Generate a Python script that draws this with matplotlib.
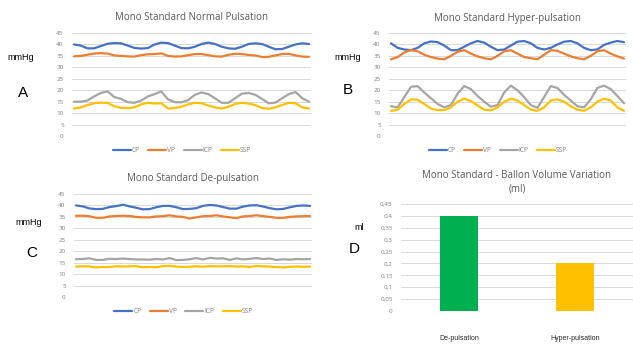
import numpy as np
import matplotlib.pyplot as plt

# pressure traces, one value per sample
cp_normal = [40.0, 39.5, 38.3, 38.3, 39.3, 40.3, 40.6, 40.5, 39.5, 38.5, 38.2, 38.4, 40.0, 40.8, 40.6, 39.5, 38.4, 38.3,
             39.0, 40.2, 40.8, 40.2, 39.0, 38.3, 38.1, 39.0, 40.2, 40.5, 40.2, 39.0, 37.9, 38.0, 39.0, 40.0, 40.5, 40.2]
vp_normal = [34.8, 35.0, 35.5, 36.0, 36.2, 36.0, 35.2, 35.0, 34.8, 34.7, 35.3, 35.7, 35.8, 36.1, 35.0, 34.7, 34.8, 35.3,
             35.8, 35.8, 35.3, 34.8, 34.7, 35.5, 35.9, 35.8, 35.4, 35.2, 34.5, 34.6, 35.2, 35.8, 35.9, 35.2, 34.7, 34.6]
icp_normal = [15.0, 15.0, 15.5, 17.3, 18.8, 19.5, 17.0, 16.2, 14.8, 14.5, 15.5, 17.3, 18.3, 19.5, 16.0, 14.8, 14.7, 15.7,
              18.0, 19.0, 18.3, 16.5, 14.5, 14.5, 16.5, 18.5, 18.8, 18.0, 16.2, 14.3, 14.6, 16.5, 18.3, 19.2, 16.5, 15.0]
ssp_normal = [12.0, 12.5, 13.5, 14.3, 14.6, 14.5, 13.0, 12.3, 12.2, 12.5, 13.8, 14.5, 14.2, 14.3, 12.0, 12.2, 12.8, 13.8,
              14.5, 14.3, 13.3, 12.5, 12.0, 12.8, 14.0, 14.5, 14.2, 13.5, 12.2, 11.9, 12.5, 13.5, 14.5, 14.3, 12.5, 12.0]

cp_hyper = [40.5, 38.5, 37.8, 37.5, 38.5, 40.5, 41.3, 41.0, 39.5, 37.5, 37.5, 39.0, 40.5, 41.5, 40.8, 39.0, 37.5, 37.8,
            39.5, 41.2, 41.5, 40.5, 38.5, 37.8, 38.5, 40.0, 41.2, 41.5, 40.5, 38.5, 37.5, 37.8, 39.8, 40.8, 41.5, 41.0]
vp_hyper = [33.5, 34.5, 36.5, 37.5, 37.0, 35.5, 34.5, 33.8, 33.5, 35.0, 36.8, 37.5, 36.0, 34.8, 34.0, 33.5, 35.0, 37.0,
            37.5, 36.0, 34.5, 34.0, 33.5, 35.5, 37.5, 37.2, 36.0, 34.8, 34.0, 33.5, 35.0, 37.0, 37.5, 36.0, 34.8, 33.8]
icp_hyper = [13.0, 12.5, 17.0, 21.5, 21.8, 19.0, 16.5, 14.0, 12.5, 13.5, 18.5, 21.8, 20.5, 17.5, 15.0, 12.8, 13.5, 19.0,
             22.0, 20.0, 17.0, 13.5, 12.3, 17.0, 21.8, 21.0, 18.0, 15.5, 13.0, 12.5, 16.0, 21.0, 22.0, 20.5, 17.5, 14.3]
ssp_hyper = [11.0, 11.5, 14.0, 16.0, 15.8, 14.0, 12.0, 11.3, 11.3, 12.5, 15.0, 16.3, 15.3, 13.3, 11.5, 11.2, 12.5, 15.0,
             16.3, 15.5, 13.5, 11.5, 11.0, 12.5, 15.5, 16.0, 15.0, 13.0, 11.5, 11.0, 12.5, 15.0, 16.3, 15.5, 12.5, 11.0]

cp_depul = [40.0, 39.6, 38.7, 38.4, 38.5, 39.3, 39.7, 40.3, 39.6, 39.0, 38.3, 38.4, 39.2, 39.8, 39.8, 39.2, 38.4, 38.5,
            38.8, 39.8, 40.2, 40.0, 39.3, 38.6, 38.6, 39.5, 40.0, 40.1, 39.5, 38.8, 38.3, 38.5, 39.2, 39.8, 40.0, 39.8]
vp_depul = [35.5, 35.5, 35.3, 34.6, 34.6, 35.2, 35.4, 35.5, 35.4, 35.0, 34.8, 34.8, 35.2, 35.3, 35.7, 35.2, 35.0, 34.3,
            34.8, 35.3, 35.4, 35.7, 35.2, 34.8, 34.5, 35.2, 35.4, 35.7, 35.3, 35.0, 34.6, 34.6, 35.0, 35.2, 35.3, 35.4]
icp_depul = [16.5, 16.6, 16.9, 16.2, 16.2, 16.7, 16.6, 16.8, 16.6, 16.4, 16.4, 16.3, 16.6, 16.4, 17.0, 16.1, 16.2, 16.5,
             17.0, 16.4, 17.1, 16.8, 16.9, 16.2, 16.9, 16.4, 16.7, 17.0, 16.6, 16.8, 16.2, 16.5, 16.3, 16.6, 16.5, 16.6]
ssp_depul = [13.3, 13.4, 13.4, 12.9, 13.1, 13.1, 13.4, 13.3, 13.4, 13.5, 13.0, 13.1, 13.0, 13.5, 13.6, 13.3, 13.1, 13.2,
             13.4, 13.2, 13.5, 13.4, 13.4, 13.5, 13.3, 13.4, 13.1, 13.6, 13.4, 13.3, 13.1, 12.9, 13.2, 13.3, 13.2, 13.3]

series_names = ["CP", "VP", "ICP", "SSP"]
series_colors = ["#4472C4", "#ED7D31", "#A5A5A5", "#FFC000"]

vol_labels = ["De-pulsation", "Hyper-pulsation"]
vol_values = [0.4, 0.2]
vol_colors = ["#00B050", "#FFC000"]

W, H = 633, 352
fig = plt.figure(figsize=(W / 100, H / 100), dpi=100)
plt.rcParams['font.family'] = ['Open Sans', 'DejaVu Sans']
grey_txt = "#595959"
tick_txt = "#7F7F7F"
grid_c = "#D9D9D9"


def px_axes(l, t, r, b):
    return fig.add_axes([l / W, 1 - b / H, (r - l) / W, (b - t) / H])


def style(ax):
    for s in ax.spines.values():
        s.set_visible(False)
    ax.tick_params(length=0, labelsize=4.5, labelcolor=tick_txt, pad=6)
    ax.grid(axis="y", color=grid_c, lw=0.7)
    ax.set_axisbelow(True)


def pressure_panel(box, title, data, letter, unit_xy, letter_xy):
    ax = px_axes(*box)
    style(ax)
    x = np.arange(len(data[0]))
    for vals, name, col in zip(data, series_names, series_colors):
        ax.plot(x, vals, color=col, lw=1.6, label=name, solid_capstyle="round", solid_joinstyle="round")
    ax.set_xlim(-0.3, len(x) - 0.7)
    ax.set_ylim(0, 45)
    ax.set_yticks(range(0, 50, 5))
    ax.set_xticks([])
    ax.set_title(title, fontsize=7, color=grey_txt, pad=9)
    ax.legend(loc="center", bbox_to_anchor=(0.46, -0.145), ncol=4, frameon=False,
              fontsize=4.8, labelcolor=tick_txt, handlelength=2.7, handletextpad=0.1,
              columnspacing=1.3)
    fig.text(unit_xy[0] / W, 1 - unit_xy[1] / H, "mmHg", fontsize=6.5, family="Liberation Sans",
             ha="center", va="center")
    fig.text(letter_xy[0] / W, 1 - letter_xy[1] / H, letter, fontsize=11, family="Liberation Sans",
             ha="center", va="center")
    return ax


pressure_panel((72, 33, 311, 136), "Mono Standard Normal Pulsation",
               [cp_normal, vp_normal, icp_normal, ssp_normal], "A", (21, 58), (23, 93))
pressure_panel((389, 33, 626, 136), "Mono Standard Hyper-pulsation",
               [cp_hyper, vp_hyper, icp_hyper, ssp_hyper], "B", (348, 57), (348, 90))
pressure_panel((74, 194, 312, 297), "Mono Standard De-pulsation",
               [cp_depul, vp_depul, icp_depul, ssp_depul], "C", (29, 222), (32, 253))

# balloon volume bars
axd = px_axes(401, 204, 633, 311)
style(axd)
axd.bar(range(len(vol_values)), vol_values, width=0.32, color=vol_colors)
axd.set_xlim(-0.5, 1.5)
axd.set_ylim(0, 0.45)
ticks = np.arange(0, 0.46, 0.05)
axd.set_yticks(ticks)
axd.set_yticklabels(["0"] + [("%g" % t).replace(".", ",") for t in ticks[1:]])
axd.set_xticks(range(len(vol_values)))
axd.set_xticklabels(vol_labels, fontsize=5, family="Liberation Sans", color="#262626")
axd.tick_params(axis="x", pad=17)
axd.set_title("Mono Standard - Ballon Volume Variation\n(ml)", fontsize=7, color=grey_txt,
              pad=9, linespacing=1.3)
fig.text(359 / W, 1 - 228 / H, "ml", fontsize=6.5, family="Liberation Sans", ha="center", va="center")
fig.text(354 / W, 1 - 249 / H, "D", fontsize=11, family="Liberation Sans", ha="center", va="center")

fig.savefig("out.png", dpi=100)
